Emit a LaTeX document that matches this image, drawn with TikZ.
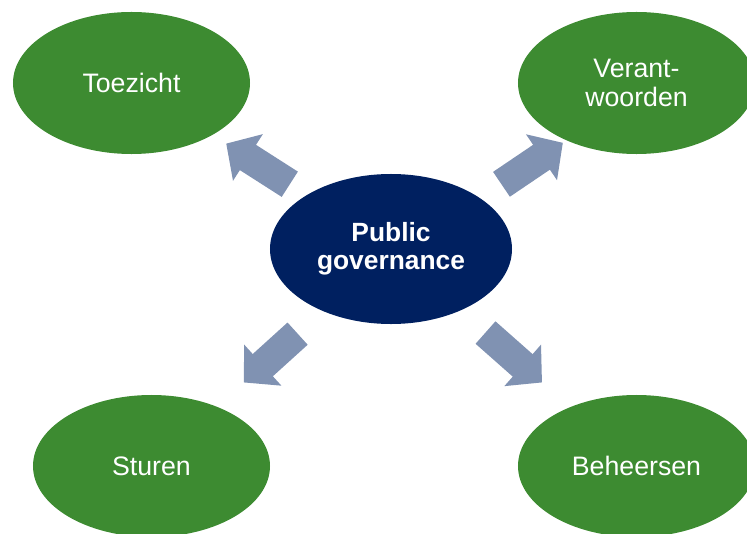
\documentclass[tikz,border=0pt]{standalone}
\usepackage{fontspec}
\setmainfont{Liberation Sans}
\usepackage{xcolor}
\usetikzlibrary{shapes.geometric, arrows.meta, calc}

\definecolor{govgreen}{HTML}{3D8B31}
\definecolor{govblue}{HTML}{002060}
\definecolor{govarrow}{HTML}{8092B2}

\tikzset{
    taak/.style={ellipse, fill=govgreen, text=white, minimum width=7.11cm,
        minimum height=4.26cm, inner sep=0pt, align=center,
        font=\fontsize{22.8}{24}\selectfont},
    kern/.style={ellipse, fill=govblue, text=white, minimum width=7.26cm,
        minimum height=4.5cm, inner sep=0pt, align=center,
        font=\fontsize{22.5}{24}\selectfont\bfseries},
    blokpijl/.style={draw=govarrow, line width=25.6pt,
        -{Triangle[length=22pt, width=46pt, fill=govarrow]}}
}

\begin{document}
\begin{tikzpicture}[x=0.03cm, y=-0.03cm]
    \useasboundingbox (0,0) rectangle (747,534);

    % Middelpunt
    \node[kern] (pg) at (391,249) {Public\\governance};

    % Vier taken
    \node[taak] (tz) at (131.5,83) {Toezicht};
    \node[taak] (vr) at (636.5,83) {Verant-\\woorden};
    \node[taak] (st) at (151.5,466) {Sturen};
    \node[taak] (bh) at (636.5,466) {Beheersen};

    % Pijlen
    \draw[blokpijl] ($(pg)!0.39!(tz)$) -- ($(pg)!0.635!(tz)$);
    \draw[blokpijl] ($(pg)!0.45!(vr)+(0,10)$) -- ($(pg)!0.70!(vr)+(0,10)$);
    \draw[blokpijl] ($(pg)!0.39!(st)$) -- ($(pg)!0.615!(st)$);
    \draw[blokpijl] ($(pg)!0.385!(bh)$) -- ($(pg)!0.615!(bh)$);
\end{tikzpicture}
\end{document}
